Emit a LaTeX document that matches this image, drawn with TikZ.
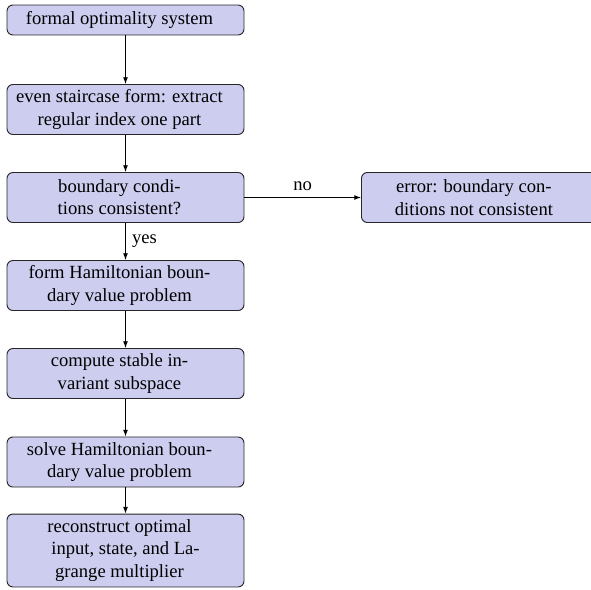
\documentclass[tikz,border=0pt]{standalone}
\usepackage{fontspec}
\setmainfont{Liberation Serif}
\usetikzlibrary{arrows.meta}
\definecolor{boxfill}{RGB}{205,205,240}
\newcommand{\lsh}{\hspace*{6.5pt}}
\tikzset{
  flowbox/.style={draw=black!85, line width=0.5pt, fill=boxfill, rounded corners=3.2pt,
    align=center, minimum width=127.4pt, inner xsep=2pt, inner ysep=1.5pt, font=\fontsize{10}{12}\selectfont},
  onerow/.style={minimum height=16.1pt},
  tworow/.style={minimum height=26.9pt},
  threerow/.style={minimum height=39.2pt},
  flow/.style={-{Latex[length=3.6pt,width=2.6pt]}, line width=0.45pt},
  lbl/.style={font=\fontsize{10}{12}\selectfont}
}
\begin{document}
\begin{tikzpicture}[x=0.5376pt, y=-0.5376pt]
\useasboundingbox (0,0) rectangle (591,589);
\node[flowbox, onerow]   (n1) at (125.5,20)    {formal optimality system\lsh};
\node[flowbox, tworow]   (n2) at (125.5,109.5) {even staircase form: extract\lsh\\regular index one part\lsh};
\node[flowbox, tworow]   (n3) at (125.5,197.5) {boundary condi-\lsh\\tions consistent?\lsh};
\node[flowbox, tworow, anchor=west] (err) at (361,197.5) {error: boundary con-\lsh\\ditions not consistent\lsh};
\node[flowbox, tworow]   (n4) at (125.5,285.5) {form Hamiltonian boun-\lsh\\dary value problem\lsh};
\node[flowbox, tworow]   (n5) at (125.5,373.5) {compute stable in-\lsh\\variant subspace\lsh};
\node[flowbox, tworow]   (n6) at (125.5,462)   {solve Hamiltonian boun-\lsh\\dary value problem\lsh};
\node[flowbox, threerow] (n7) at (125.5,550.5) {reconstruct optimal\lsh\\input, state, and La-\lsh\\grange multiplier\lsh};
\draw[flow] (n1) -- (n2);
\draw[flow] (n2) -- (n3);
\draw[flow] (n3) -- node[lbl, above] {no} (err);
\draw[flow] (n3) -- node[lbl, right] {yes} (n4);
\draw[flow] (n4) -- (n5);
\draw[flow] (n5) -- (n6);
\draw[flow] (n6) -- (n7);
\end{tikzpicture}
\end{document}
